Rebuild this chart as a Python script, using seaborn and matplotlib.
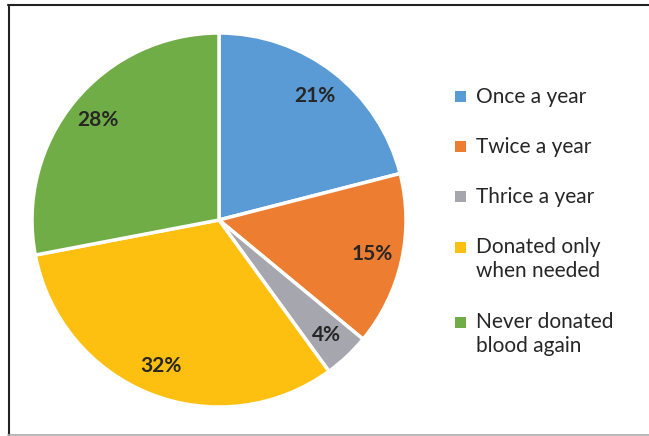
import matplotlib
matplotlib.use("Agg")
import matplotlib.pyplot as plt
import seaborn as sns
from matplotlib.patches import Rectangle
from matplotlib.lines import Line2D

categories = ["Once a year", "Twice a year", "Thrice a year",
              "Donated only\nwhen needed", "Never donated\nblood again"]
values = [21, 15, 4, 32, 28]
colors = ["#5B9BD5", "#ED7D31", "#A6A6AE", "#FDC010", "#70AD47"]

sns.set_theme(style="white")
plt.rcParams["font.family"] = ["Lato", "DejaVu Sans"]

W, H = 649, 436
fig = plt.figure(figsize=(W / 100, H / 100), dpi=100)

cx, cy, r = 219, 220, 187
ax = fig.add_axes([(cx - r) / W, (H - cy - r) / H, 2 * r / W, 2 * r / H])
wedges, texts, autotexts = ax.pie(
    values, colors=colors, startangle=90, counterclock=False,
    autopct=lambda p: f"{p:.0f}%", pctdistance=0.84,
    wedgeprops=dict(edgecolor="white", linewidth=2.5),
    textprops=dict(fontsize=15, fontweight="bold", color="#262626"),
)
ax.set_xlim(-1, 1)
ax.set_ylim(-1, 1)
ax.set_aspect("equal")
ax.axis("off")

# manual legend
y = 97
for lab, col in zip(categories, colors):
    fig.patches.append(Rectangle(((455) / W, 1 - (y + 5.5) / H), 11 / W, 11 / H,
                                 transform=fig.transFigure, facecolor=col,
                                 edgecolor="none"))
    lines = lab.split("\n")
    for k, line in enumerate(lines):
        fig.text(476 / W, 1 - (y + 24 * k) / H, line, fontsize=15,
                 color="#262626", va="center", ha="left")
    y += 50 + 25 * (len(lines) - 1)

# border
fig.add_artist(Line2D([8.5 / W, 8.5 / W], [1 - 5 / H, 1 - 435 / H],
                      transform=fig.transFigure, color="#222222", lw=1.5))
fig.add_artist(Line2D([8 / W, 1.0], [1 - 5.5 / H, 1 - 5.5 / H],
                      transform=fig.transFigure, color="#222222", lw=1.5))
fig.add_artist(Line2D([8 / W, 1.0], [1 - 434.5 / H, 1 - 434.5 / H],
                      transform=fig.transFigure, color="#aaaaaa", lw=1.2))

fig.savefig("out.png", dpi=100)
